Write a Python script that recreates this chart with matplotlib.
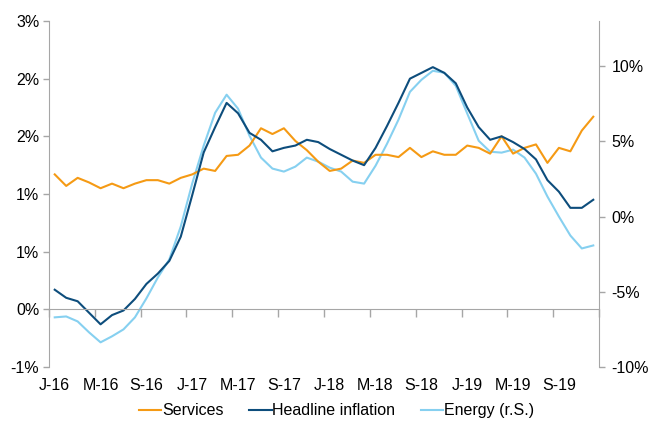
import numpy as np
import matplotlib
matplotlib.use("Agg")
import matplotlib.pyplot as plt

plt.rcParams['font.family'] = ['Liberation Sans', 'DejaVu Sans']

# monthly data, Jan 2016 - Dec 2019
services = [1.17, 1.07, 1.14, 1.10, 1.05, 1.09, 1.05, 1.09, 1.12, 1.12, 1.09, 1.14,
            1.17, 1.22, 1.20, 1.33, 1.34, 1.42, 1.57, 1.52, 1.57, 1.46, 1.38, 1.28,
            1.20, 1.22, 1.29, 1.27, 1.34, 1.34, 1.32, 1.40, 1.32, 1.37, 1.34, 1.34,
            1.42, 1.40, 1.35, 1.50, 1.35, 1.40, 1.43, 1.27, 1.40, 1.37, 1.55, 1.67]
headline = [0.17, 0.10, 0.07, -0.03, -0.13, -0.05, -0.01, 0.09, 0.22, 0.31, 0.42, 0.63,
            0.99, 1.36, 1.58, 1.79, 1.70, 1.53, 1.47, 1.37, 1.40, 1.42, 1.47, 1.45,
            1.39, 1.34, 1.29, 1.25, 1.40, 1.59, 1.79, 2.00, 2.05, 2.10, 2.05, 1.96,
            1.75, 1.58, 1.47, 1.50, 1.45, 1.39, 1.30, 1.12, 1.02, 0.88, 0.88, 0.95]
energy = [-6.70, -6.64, -6.97, -7.70, -8.36, -7.96, -7.50, -6.70, -5.44, -4.05, -2.85, -0.66,
          2.20, 4.71, 6.90, 8.10, 7.17, 5.37, 3.92, 3.19, 2.99, 3.32, 3.92, 3.65,
          3.25, 2.99, 2.32, 2.19, 3.38, 4.84, 6.44, 8.29, 9.09, 9.69, 9.56, 8.69,
          6.85, 5.04, 4.31, 4.25, 4.45, 3.92, 2.85, 1.33, 0.00, -1.26, -2.12, -1.92]

x_labels = ['J-16', 'M-16', 'S-16', 'J-17', 'M-17', 'S-17',
            'J-18', 'M-18', 'S-18', 'J-19', 'M-19', 'S-19']
left_ticks = [-0.5, 0, 0.5, 1.0, 1.5, 2.0, 2.5]
left_labels = ['-1%', '0%', '1%', '1%', '2%', '2%', '3%']
right_ticks = [-10, -5, 0, 5, 10]
right_labels = ['-10%', '-5%', '0%', '5%', '10%']

c_serv = '#F59A14'
c_head = '#0D4D7C'
c_energy = '#86D0F0'
grey = '#A6A6A6'

x = np.arange(len(services))

fig = plt.figure(figsize=(6.51, 4.21), dpi=100)
ax = fig.add_axes([49 / 651, 54 / 421, 550 / 651, 346 / 421])
ax2 = ax.twinx()

l1, = ax.plot(x, services, color=c_serv, lw=1.5)
l2, = ax.plot(x, headline, color=c_head, lw=1.5)
l3, = ax2.plot(x, energy, color=c_energy, lw=1.5)
ax.set_zorder(ax2.get_zorder() + 1)
ax.patch.set_visible(False)

ax.set_xlim(-0.5, len(x) - 0.5)
ax.set_ylim(-0.5, 2.5)
ax2.set_ylim(-10, 13)

ax.set_yticks(left_ticks)
ax.set_yticklabels(left_labels, fontsize=11.5)
ax2.set_yticks(right_ticks)
ax2.set_yticklabels(right_labels, fontsize=11.5)

# horizontal axis crosses at 0, ticks between category groups
ax.spines['bottom'].set_position(('data', 0))
ax.set_xticks(np.arange(-0.5, len(x), 4))
ax.set_xticklabels([])
ax.tick_params(axis='x', direction='out', length=6, color=grey, width=1)
ax.tick_params(axis='y', direction='out', length=4, color=grey, width=1, pad=3)
ax2.tick_params(axis='y', direction='out', length=4, color=grey, width=1, pad=5)

for a in (ax, ax2):
    a.spines['top'].set_visible(False)
    for s in ('left', 'right', 'bottom'):
        a.spines[s].set_color(grey)
ax2.spines['bottom'].set_visible(False)
ax.spines['right'].set_visible(False)
ax2.spines['left'].set_visible(False)

# labels sit at the bottom of the plot
sec = ax.secondary_xaxis(0)
sec.set_xticks(np.arange(0, len(x), 4))
sec.set_xticklabels(x_labels, fontsize=11.5)
sec.tick_params(length=0, pad=8)
sec.spines['bottom'].set_visible(False)

fig.legend([l1, l2, l3], ['Services', 'Headline inflation', 'Energy (r.S.)'],
           loc='lower center', bbox_to_anchor=(0.517, -0.028), ncol=3, frameon=False,
           fontsize=11.5, handlelength=1.4, handletextpad=0.05, columnspacing=1.6)

fig.savefig('out.png', dpi=100)
